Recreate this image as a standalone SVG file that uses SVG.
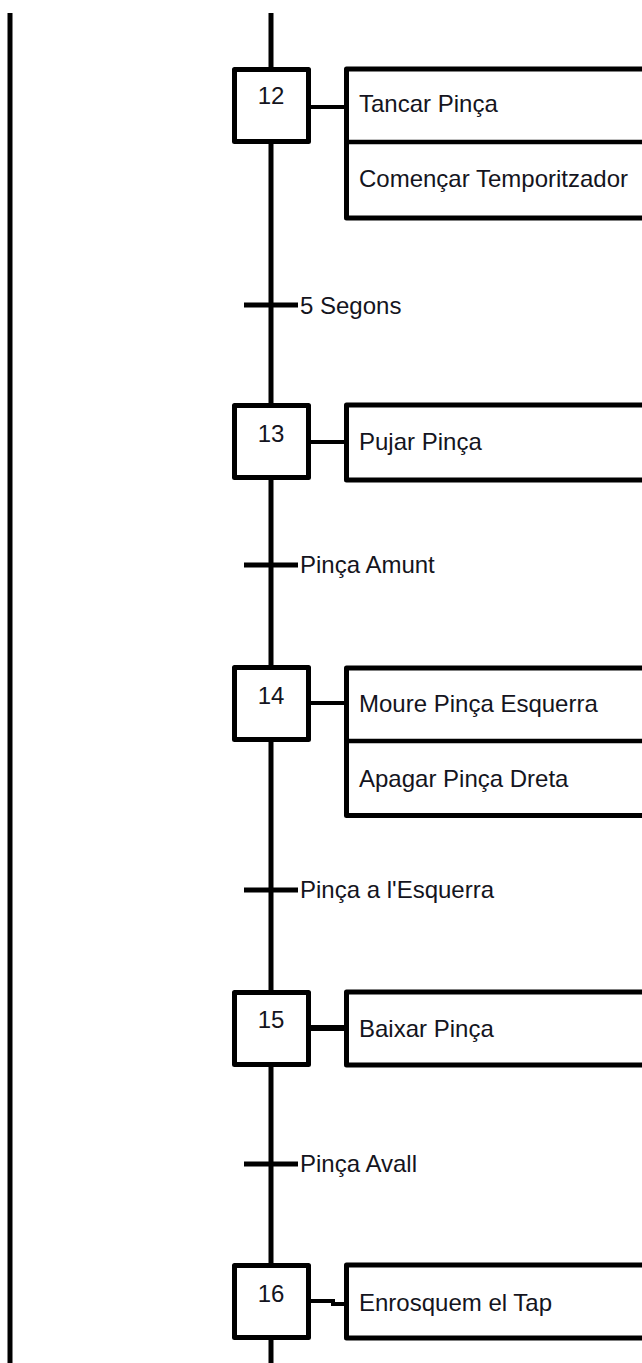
<svg xmlns="http://www.w3.org/2000/svg" width="642" height="1363" viewBox="0 0 642 1363">
<style>
.bg{fill:#fff}
.step{fill:#fff;stroke:#000;stroke-width:5;stroke-linejoin:round}
.act{fill:#fff;stroke:#000;stroke-width:5;stroke-linejoin:round}
.ln{stroke:#000;stroke-width:5;fill:none}
.cn{stroke:#000;stroke-width:4;fill:none}
.t{font-family:"Liberation Sans",Arial,sans-serif;font-size:24px;fill:#141420}
.n{text-anchor:middle}
</style>
<rect class="bg" x="0" y="0" width="642" height="1363"/>
<g id="connectors">
<line class="ln" x1="10" y1="13" x2="10" y2="1363"/>
<line class="ln" x1="271" y1="13" x2="271" y2="1363"/>
<line class="cn" x1="311" y1="107" x2="347" y2="107"/>
<line class="cn" x1="311" y1="442" x2="347" y2="442"/>
<line class="cn" x1="311" y1="703" x2="347" y2="703"/>
<line class="cn" x1="311" y1="1028" x2="347" y2="1028" style="stroke-width:6"/>
<polyline class="cn" points="311,1301 333,1301 333,1304 347,1304"/>
</g>
<g id="step12"><rect class="step" x="234.5" y="69.5" width="74" height="72"/><text class="t n" x="271" y="104">12</text></g>
<g id="action12"><rect class="act" x="346.5" y="69" width="320" height="149"/><line class="cn" x1="346" y1="142" x2="660" y2="142" style="stroke-width:4.5"/><text class="t" x="359" y="112">Tancar Pinça</text><text class="t" x="359" y="187">Començar Temporitzador</text></g>
<g id="trans12"><line class="ln" x1="244" y1="305" x2="298" y2="305"/><text class="t" x="300" y="314">5 Segons</text></g>
<g id="step13"><rect class="step" x="234.5" y="405.5" width="74" height="72"/><text class="t n" x="271" y="442">13</text></g>
<g id="action13"><rect class="act" x="346.5" y="405" width="320" height="75"/><text class="t" x="359" y="450">Pujar Pinça</text></g>
<g id="trans13"><line class="ln" x1="244" y1="565" x2="298" y2="565"/><text class="t" x="300" y="573">Pinça Amunt</text></g>
<g id="step14"><rect class="step" x="234.5" y="667.5" width="74" height="72"/><text class="t n" x="271" y="704">14</text></g>
<g id="action14"><rect class="act" x="346.5" y="668" width="320" height="147.5"/><line class="cn" x1="346" y1="741" x2="660" y2="741" style="stroke-width:4.5"/><text class="t" x="359" y="712">Moure Pinça Esquerra</text><text class="t" x="359" y="787">Apagar Pinça Dreta</text></g>
<g id="trans14"><line class="ln" x1="244" y1="890" x2="298" y2="890"/><text class="t" x="300" y="898">Pinça a l'Esquerra</text></g>
<g id="step15"><rect class="step" x="234.5" y="992.5" width="74" height="72"/><text class="t n" x="271" y="1028">15</text></g>
<g id="action15"><rect class="act" x="346.5" y="992" width="320" height="73"/><text class="t" x="359" y="1037">Baixar Pinça</text></g>
<g id="trans15"><line class="ln" x1="244" y1="1164" x2="298" y2="1164"/><text class="t" x="300" y="1172">Pinça Avall</text></g>
<g id="step16"><rect class="step" x="234.5" y="1265.5" width="74" height="72"/><text class="t n" x="271" y="1302">16</text></g>
<g id="action16"><rect class="act" x="346.5" y="1265" width="320" height="73"/><text class="t" x="359" y="1311">Enrosquem el Tap</text></g>
</svg>
